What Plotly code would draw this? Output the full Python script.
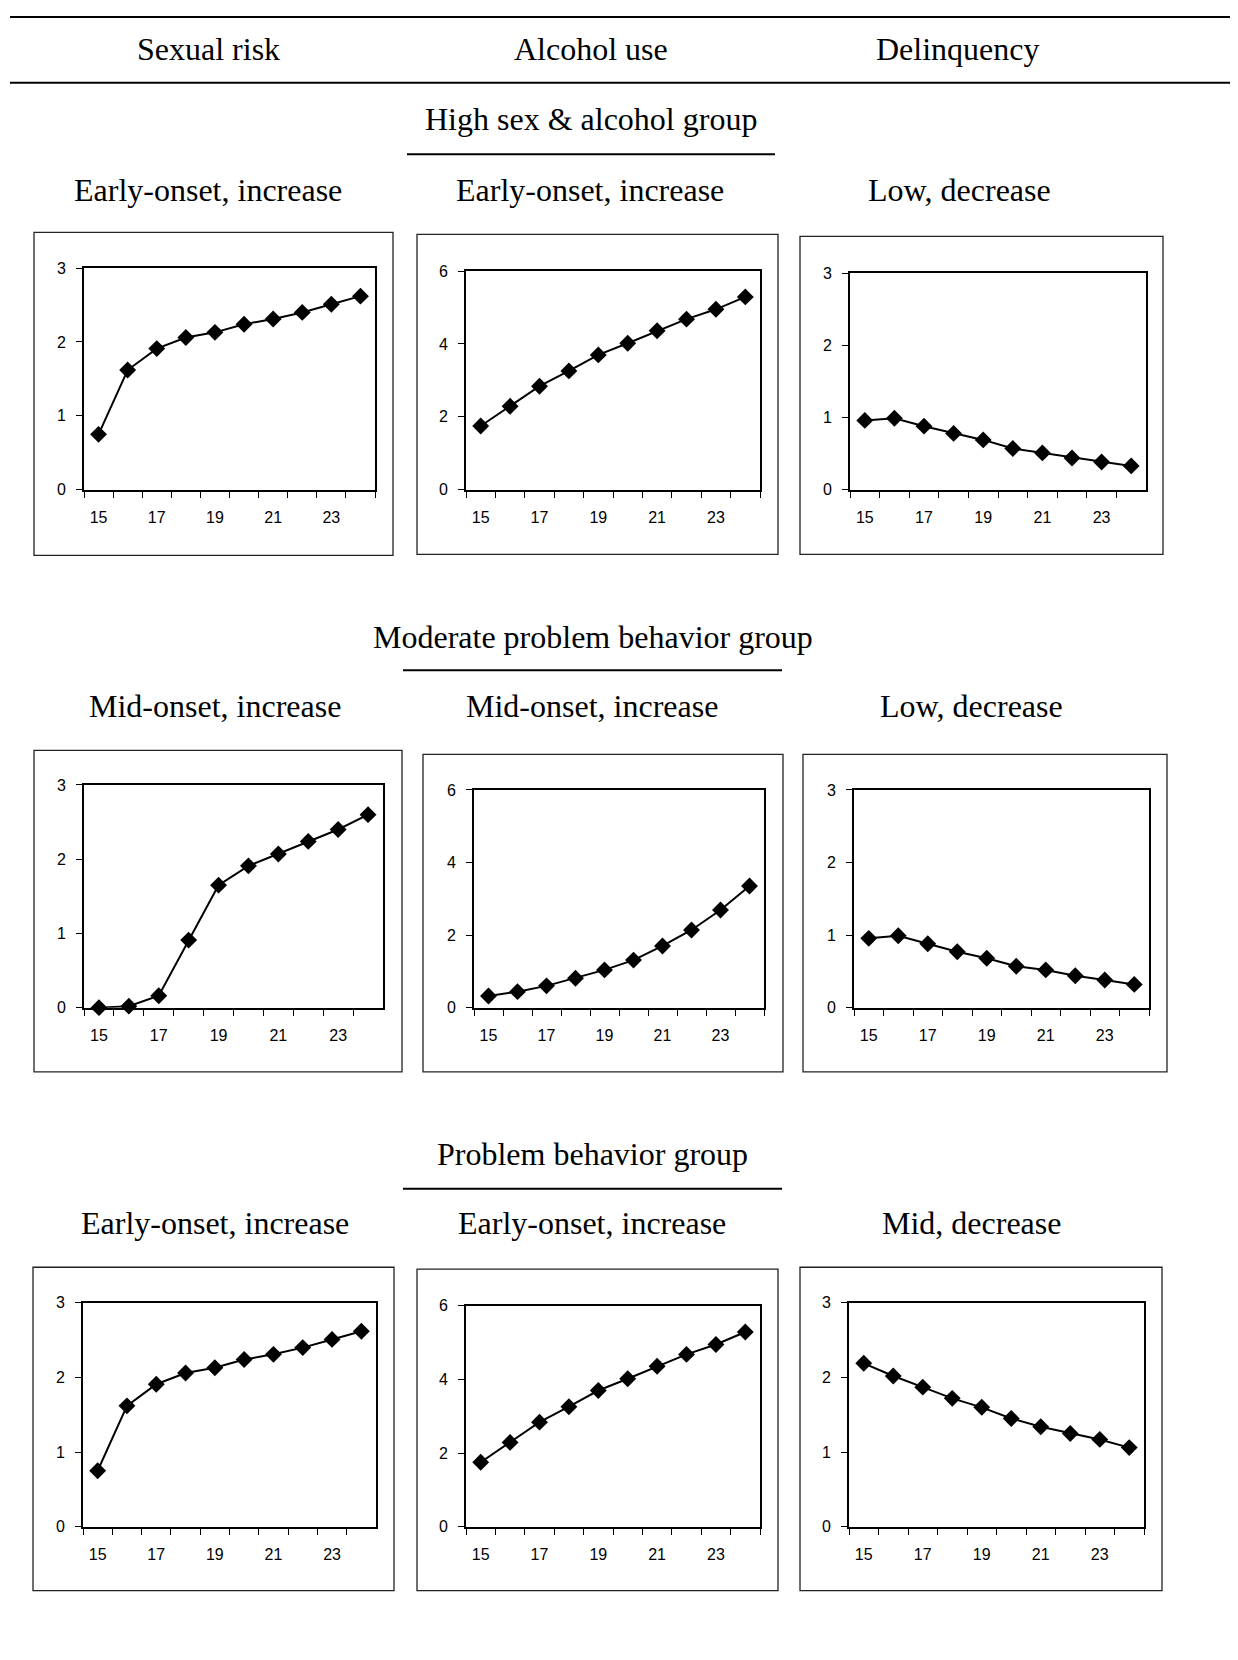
import plotly.graph_objects as go

# ---------------- data ----------------
ages = [15, 16, 17, 18, 19, 20, 21, 22, 23, 24]
age_tick_labels = ["15", "", "17", "", "19", "", "21", "", "23", ""]

high_sex = [0.75, 1.62, 1.91, 2.06, 2.13, 2.24, 2.31, 2.40, 2.51, 2.62]
high_alc = [1.75, 2.29, 2.84, 3.26, 3.70, 4.02, 4.36, 4.68, 4.95, 5.29]
high_del = [0.96, 0.99, 0.88, 0.78, 0.69, 0.57, 0.51, 0.44, 0.385, 0.33]

mod_sex = [0.00, 0.02, 0.16, 0.91, 1.65, 1.91, 2.07, 2.24, 2.40, 2.60]
mod_alc = [0.32, 0.44, 0.60, 0.81, 1.04, 1.31, 1.70, 2.14, 2.69, 3.35]
mod_del = [0.955, 0.99, 0.88, 0.77, 0.68, 0.57, 0.52, 0.44, 0.38, 0.32]

prob_sex = [0.75, 1.62, 1.91, 2.06, 2.13, 2.24, 2.31, 2.40, 2.51, 2.62]
prob_alc = [1.75, 2.29, 2.84, 3.26, 3.70, 4.02, 4.36, 4.68, 4.95, 5.29]
prob_del = [2.19, 2.02, 1.87, 1.72, 1.60, 1.45, 1.34, 1.25, 1.17, 1.06]

column_headers = ["Sexual risk", "Alcohol use", "Delinquency"]
group_titles = ["High sex & alcohol group", "Moderate problem behavior group",
                "Problem behavior group"]
trajectory_labels = [
    ["Early-onset, increase", "Early-onset, increase", "Low, decrease"],
    ["Mid-onset, increase", "Mid-onset, increase", "Low, decrease"],
    ["Early-onset, increase", "Early-onset, increase", "Mid, decrease"],
]
series = [[high_sex, high_alc, high_del],
          [mod_sex, mod_alc, mod_del],
          [prob_sex, prob_alc, prob_del]]
y_max = [3, 6, 3]
y_step = [1, 2, 1]

# ---------------- layout geometry (page pixels) ----------------
PAGE_W, PAGE_H = 1238, 1660
OFF = 8                      # default page body margin
W, H = PAGE_W - 2 * OFF, PAGE_H - 2 * OFF

def fx(x):
    return (x - OFF) / W
def fy(y):
    return 1 - (y - OFF) / H

# plot-area boxes (x0, x1, y_top, y_bottom) and outer chart boxes
plot_boxes = [
    [(84, 375, 262.7, 486.7), (466, 760, 265.7, 486.7), (850, 1146, 267.7, 486.7)],
    [(84, 383, 785, 1010), (474, 764, 790, 1010), (854, 1149, 790, 1010)],
    [(83, 376, 1308.3, 1534.5), (466, 760, 1311.3, 1534.5), (849, 1144, 1308.3, 1534.5)],
]
outer_boxes = [
    [(34, 393, 226.6, 553), (417, 778, 228.6, 552), (800, 1163, 230.6, 552)],
    [(34, 402, 750, 1075), (423, 783, 754, 1075), (803, 1167, 754, 1075)],
    [(33, 394, 1272.3, 1599), (417, 778, 1274.3, 1599), (800, 1162, 1272.3, 1599)],
]
group_title_y = [112.5, 635, 1158]
group_rule_y = [147.6, 669, 1193]
group_rule_x = [(407, 775), (403, 782), (403, 782)]
subtitle_y = [183.6, 705, 1228]
col_centers = [[208, 590, 959], [215, 592, 971], [215, 592, 971]]
header_y = 41.5
table_rule_y = [9, 75.5]

serif = "Times New Roman, Liberation Serif, serif"
sans = "Arial, Liberation Sans, sans-serif"

fig = go.Figure()
layout_axes = {}
shapes = []
annotations = []

n = 0
for r in range(3):
    for c in range(3):
        n += 1
        xa = "x" if n == 1 else f"x{n}"
        ya = "y" if n == 1 else f"y{n}"
        fig.add_trace(go.Scatter(
            x=[str(a) for a in ages], y=series[r][c], xaxis=xa, yaxis=ya,
            mode="lines+markers",
            line=dict(color="black", width=2),
            marker=dict(symbol="diamond", size=13, color="black"),
            cliponaxis=False, showlegend=False, hoverinfo="x+y",
        ))
        x0, x1, yt, yb = plot_boxes[r][c]
        key_x = "xaxis" if n == 1 else f"xaxis{n}"
        key_y = "yaxis" if n == 1 else f"yaxis{n}"
        layout_axes[key_x] = dict(
            domain=[fx(x0), fx(x1)], anchor=ya, type="category",
            categoryorder="array", categoryarray=[str(a) for a in ages],
            tickmode="array", tickvals=[str(a) for a in ages],
            ticktext=age_tick_labels, tickson="boundaries",
            ticks="outside", ticklen=6, tickwidth=1, tickcolor="black",
            showline=True, linecolor="black", linewidth=2, mirror=True,
            showgrid=False, zeroline=False, range=[-0.5, 9.5],
            tickfont=dict(family=sans, size=16, color="black"),
            ticklabelstandoff=12, fixedrange=True,
        )
        layout_axes[key_y] = dict(
            domain=[fy(yb), fy(yt)], anchor=xa, range=[0, y_max[c]],
            tickmode="linear", tick0=0, dtick=y_step[c],
            ticks="outside", ticklen=6, tickwidth=1, tickcolor="black",
            showline=True, linecolor="black", linewidth=2, mirror=True,
            showgrid=False, zeroline=False,
            tickfont=dict(family=sans, size=16, color="black"),
            ticklabelstandoff=7, fixedrange=True,
        )
        ox0, ox1, oyt, oyb = outer_boxes[r][c]
        shapes.append(dict(type="rect", xref="paper", yref="paper",
                           x0=fx(ox0), x1=fx(ox1), y0=fy(oyb), y1=fy(oyt),
                           line=dict(color="#222222", width=1.3),
                           fillcolor="rgba(0,0,0,0)", layer="below"))
        annotations.append(dict(
            text=trajectory_labels[r][c], xref="paper", yref="paper",
            x=fx(col_centers[r][c]), y=fy(subtitle_y[r]),
            xanchor="center", yanchor="middle", showarrow=False,
            font=dict(family=serif, size=32, color="black")))
    annotations.append(dict(
        text=group_titles[r], xref="paper", yref="paper",
        x=fx((group_rule_x[r][0] + group_rule_x[r][1]) / 2), y=fy(group_title_y[r]),
        xanchor="center", yanchor="middle", showarrow=False,
        font=dict(family=serif, size=32, color="black")))
    shapes.append(dict(type="line", xref="paper", yref="paper",
                       x0=fx(group_rule_x[r][0]), x1=fx(group_rule_x[r][1]),
                       y0=fy(group_rule_y[r]), y1=fy(group_rule_y[r]),
                       line=dict(color="black", width=2)))

# column headers and table rules
header_x = [208, 591, 958]
for c in range(3):
    annotations.append(dict(
        text=column_headers[c], xref="paper", yref="paper",
        x=fx(header_x[c]), y=fy(header_y), xanchor="center", yanchor="middle",
        showarrow=False, font=dict(family=serif, size=32, color="black")))
for yy in table_rule_y:
    shapes.append(dict(type="line", xref="paper", yref="paper",
                       x0=fx(10), x1=1, y0=fy(yy), y1=fy(yy),
                       line=dict(color="black", width=2)))

fig.update_layout(
    width=W, height=H, margin=dict(l=0, r=0, t=0, b=0),
    paper_bgcolor="white", plot_bgcolor="white",
    shapes=shapes, annotations=annotations, showlegend=False,
    **layout_axes,
)

fig.write_html("out.html", config={"displayModeBar": False})
